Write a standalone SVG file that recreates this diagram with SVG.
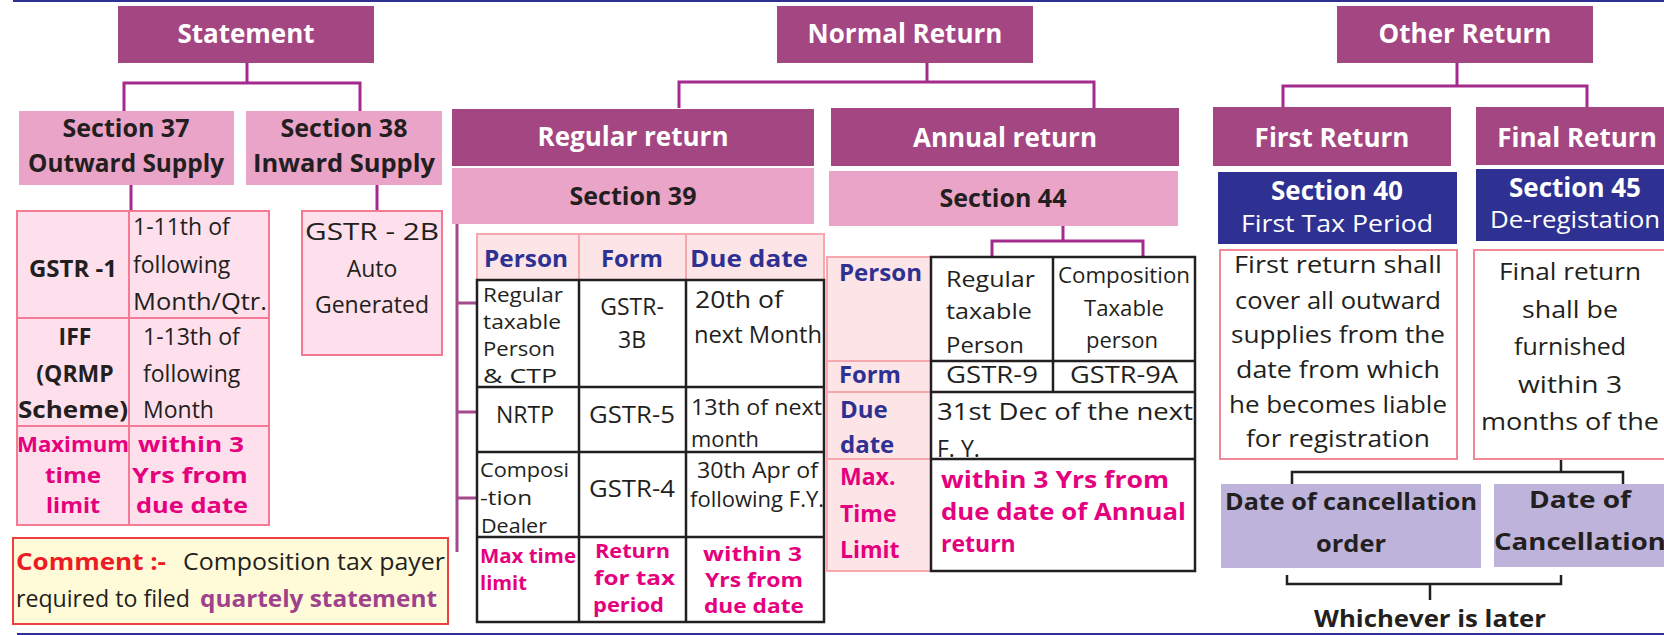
<svg xmlns="http://www.w3.org/2000/svg" width="1664" height="635" viewBox="0 0 1664 635">
<style>
text { font-family: "Open Sans", "Noto Sans", "DejaVu Sans", sans-serif; }
.dark { fill: #a44682; }
.pinkbox { fill: #eaa4c8; }
.lt { fill: #fde0ec; stroke: #f47a94; stroke-width: 2; }
.hdr { fill: #fce4e7; stroke: #f7a8ae; stroke-width: 2; }
.wb { fill: #ffffff; stroke: #231f20; stroke-width: 2.5; }
.blue { fill: #2e3192; }
.lav { fill: #bdb3db; }
.h1 { fill: #ffffff; font-weight: 700; font-size: 26px; text-anchor: middle; }
.h2 { fill: #231f20; font-weight: 700; font-size: 25px; text-anchor: middle; }
.n { fill: #231f20; font-size: 23px; }
.nb { fill: #231f20; font-size: 23px; font-weight: 700; }
.m { fill: #e5007d; font-size: 23px; font-weight: 700; }
.bl { fill: #2e3192; font-size: 24px; font-weight: 700; }
.c { text-anchor: middle; }
.s19 { font-size: 19px; }
.s20 { font-size: 20px; }
.s21 { font-size: 21px; }
.s22 { font-size: 22px; }
.s24 { font-size: 24px; }
.conn { fill: none; stroke: #a52a8e; stroke-width: 3; }
.conn2 { fill: none; stroke: #a34a8c; stroke-width: 3; }
.connk { fill: none; stroke: #231f20; stroke-width: 2.5; }
.pline { stroke: #f47a94; stroke-width: 2; }
.hline { stroke: #f7a8ae; stroke-width: 2; }
.kline { stroke: #231f20; stroke-width: 2.5; }
</style>

<line x1="13" y1="1" x2="1664" y2="1" stroke="#2e3192" stroke-width="2"/>
<line x1="17" y1="634" x2="1664" y2="634" stroke="#2e3192" stroke-width="2"/>

<g id="connectors">
  <path class="conn" d="M247,63 V83 M124,111 V83 H360 V111"/>
  <path class="conn" d="M131,185 V211 M377,185 V211"/>
  <path class="conn" d="M927,63 V82 M679,108 V82 H1094 V108"/>
  <path class="conn2" d="M457,224 V552 M457,303 H477 M457,412 H477 M457,498 H477"/>
  <path class="conn" d="M1063,226 V241 M992,258 V241 H1143 V258"/>
  <path class="conn" d="M1457,63 V86 M1283,107 V86 H1587 V107"/>
  <path class="connk" d="M1561,459 V472 M1292,484 V472 H1623 V484"/>
  <path class="connk" d="M1287,575 V584 H1561 V575 M1430,584 V600"/>
</g>

<!-- Statement branch -->
<g id="statement">
  <rect class="dark" x="118" y="6" width="256" height="57"/>
  <text class="h1" x="246" y="43">Statement</text>
</g>
<g id="section37">
  <rect class="pinkbox" x="19" y="111" width="215" height="74"/>
  <text class="h2" x="126" y="137">Section 37</text>
  <text class="h2" x="126" y="172" textLength="196" lengthAdjust="spacingAndGlyphs">Outward Supply</text>
</g>
<g id="section38">
  <rect class="pinkbox" x="246" y="111" width="196" height="74"/>
  <text class="h2" x="344" y="137">Section 38</text>
  <text class="h2" x="344" y="172" textLength="182" lengthAdjust="spacingAndGlyphs">Inward Supply</text>
</g>
<g id="table-statement">
  <rect class="lt" x="17" y="211" width="252" height="314"/>
  <line class="pline" x1="129" y1="211" x2="129" y2="525"/>
  <line class="pline" x1="17" y1="318" x2="269" y2="318"/>
  <line class="pline" x1="17" y1="426" x2="269" y2="426"/>
  <text class="nb c s24" x="73" y="277">GSTR -1</text>
  <text class="n" x="133" y="235">1-11th of</text>
  <text class="n" x="133" y="273">following</text>
  <text class="n" x="133" y="310" textLength="134" lengthAdjust="spacingAndGlyphs">Month/Qtr.</text>
  <text class="nb c" x="75" y="345">IFF</text>
  <text class="nb c" x="75" y="382">(QRMP</text>
  <text class="nb c" x="73" y="418" textLength="110" lengthAdjust="spacingAndGlyphs">Scheme)</text>
  <text class="n" x="143" y="345">1-13th of</text>
  <text class="n" x="143" y="382">following</text>
  <text class="n" x="143" y="418">Month</text>
  <text class="m c s22" x="73" y="452" textLength="112" lengthAdjust="spacingAndGlyphs">Maximum</text>
  <text class="m c s22" x="73" y="483" textLength="56" lengthAdjust="spacingAndGlyphs">time</text>
  <text class="m c s22" x="73" y="513" textLength="54" lengthAdjust="spacingAndGlyphs">limit</text>
  <text class="m s22" x="138" y="452" textLength="106" lengthAdjust="spacingAndGlyphs">within 3</text>
  <text class="m s22" x="132" y="483" textLength="116" lengthAdjust="spacingAndGlyphs">Yrs from</text>
  <text class="m s22" x="136" y="513" textLength="112" lengthAdjust="spacingAndGlyphs">due date</text>
</g>
<g id="gstr2b">
  <rect class="lt" x="302" y="211" width="140" height="144"/>
  <text class="n c" x="372" y="240" textLength="134" lengthAdjust="spacingAndGlyphs">GSTR - 2B</text>
  <text class="n c" x="372" y="277">Auto</text>
  <text class="n c" x="372" y="313">Generated</text>
</g>
<g id="comment">
  <rect x="13" y="538" width="435" height="86" fill="#fffbd9" stroke="#ef4040" stroke-width="2"/>
  <text x="16" y="570" font-size="24" font-weight="700" fill="#ed1c24" textLength="150" lengthAdjust="spacingAndGlyphs">Comment :-</text>
  <text x="445" y="570" font-size="24" fill="#231f20" text-anchor="end" textLength="262" lengthAdjust="spacingAndGlyphs">Composition tax payer</text>
  <text x="16" y="607" font-size="24" fill="#231f20" textLength="174" lengthAdjust="spacingAndGlyphs">required to filed</text>
  <text x="437" y="607" font-size="24" font-weight="700" fill="#a0418c" text-anchor="end" textLength="237" lengthAdjust="spacingAndGlyphs">quartely statement</text>
</g>

<!-- Normal Return branch -->
<g id="normal-return">
  <rect class="dark" x="777" y="6" width="256" height="57"/>
  <text class="h1" x="905" y="43">Normal Return</text>
</g>
<g id="regular-return">
  <rect class="dark" x="452" y="109" width="362" height="57"/>
  <text class="h1" x="633" y="146">Regular return</text>
</g>
<g id="section39">
  <rect class="pinkbox" x="452" y="168" width="362" height="56"/>
  <text class="h2" x="633" y="205">Section 39</text>
</g>
<g id="table-section39">
  <rect class="hdr" x="477" y="234" width="347" height="46"/>
  <line class="hline" x1="579" y1="234" x2="579" y2="280"/>
  <line class="hline" x1="686" y1="234" x2="686" y2="280"/>
  <rect class="wb" x="477" y="280" width="347" height="342"/>
  <line class="kline" x1="579" y1="280" x2="579" y2="622"/>
  <line class="kline" x1="686" y1="280" x2="686" y2="622"/>
  <line class="kline" x1="477" y1="387" x2="824" y2="387"/>
  <line class="kline" x1="477" y1="452" x2="824" y2="452"/>
  <line class="kline" x1="477" y1="537" x2="824" y2="537"/>
  <text class="bl" x="484" y="267" textLength="84" lengthAdjust="spacingAndGlyphs">Person</text>
  <text class="bl c" x="632" y="267" textLength="62" lengthAdjust="spacingAndGlyphs">Form</text>
  <text class="bl" x="690" y="267" textLength="118" lengthAdjust="spacingAndGlyphs">Due date</text>
  <text class="n s20" x="483" y="302" textLength="80" lengthAdjust="spacingAndGlyphs">Regular</text>
  <text class="n s20" x="483" y="329" textLength="78" lengthAdjust="spacingAndGlyphs">taxable</text>
  <text class="n s20" x="483" y="356" textLength="72" lengthAdjust="spacingAndGlyphs">Person</text>
  <text class="n s20" x="483" y="383" textLength="74" lengthAdjust="spacingAndGlyphs">&amp; CTP</text>
  <text class="n c" x="632" y="315">GSTR-</text>
  <text class="n c" x="632" y="348">3B</text>
  <text class="n" x="695" y="308" textLength="88" lengthAdjust="spacingAndGlyphs">20th of</text>
  <text class="n" x="694" y="343" textLength="128" lengthAdjust="spacingAndGlyphs">next Month</text>
  <text class="n c" x="525" y="423">NRTP</text>
  <text class="n c" x="632" y="423" textLength="86" lengthAdjust="spacingAndGlyphs">GSTR-5</text>
  <text class="n s22" x="691" y="415" textLength="131" lengthAdjust="spacingAndGlyphs">13th of next</text>
  <text class="n s22" x="691" y="447" textLength="68" lengthAdjust="spacingAndGlyphs">month</text>
  <text class="n s20" x="480" y="477" textLength="89" lengthAdjust="spacingAndGlyphs">Composi</text>
  <text class="n s20" x="480" y="505" textLength="52" lengthAdjust="spacingAndGlyphs">-tion</text>
  <text class="n s20" x="481" y="533" textLength="66" lengthAdjust="spacingAndGlyphs">Dealer</text>
  <text class="n c" x="632" y="497" textLength="86" lengthAdjust="spacingAndGlyphs">GSTR-4</text>
  <text class="n s21" x="697" y="478" textLength="121" lengthAdjust="spacingAndGlyphs">30th Apr of</text>
  <text class="n s21" x="690" y="507" textLength="134" lengthAdjust="spacingAndGlyphs">following F.Y.</text>
  <text class="m s20" x="480" y="563" textLength="96" lengthAdjust="spacingAndGlyphs">Max time</text>
  <text class="m s20" x="480" y="590" textLength="47" lengthAdjust="spacingAndGlyphs">limit</text>
  <text class="m s20" x="595" y="558" textLength="75" lengthAdjust="spacingAndGlyphs">Return</text>
  <text class="m s20" x="594" y="585" textLength="81" lengthAdjust="spacingAndGlyphs">for tax</text>
  <text class="m s20" x="593" y="612" textLength="71" lengthAdjust="spacingAndGlyphs">period</text>
  <text class="m s19" x="703" y="561" textLength="99" lengthAdjust="spacingAndGlyphs">within 3</text>
  <text class="m s19" x="705" y="587" textLength="98" lengthAdjust="spacingAndGlyphs">Yrs from</text>
  <text class="m s19" x="704" y="613" textLength="100" lengthAdjust="spacingAndGlyphs">due date</text>
</g>
<g id="annual-return">
  <rect class="dark" x="831" y="108" width="348" height="58"/>
  <text class="h1" x="1005" y="147">Annual return</text>
</g>
<g id="section44">
  <rect class="pinkbox" x="829" y="171" width="349" height="55"/>
  <text class="h2" x="1003" y="207">Section 44</text>
</g>
<g id="table-section44">
  <rect class="hdr" x="827" y="257" width="104" height="314"/>
  <line class="hline" x1="827" y1="361" x2="931" y2="361"/>
  <line class="hline" x1="827" y1="392" x2="931" y2="392"/>
  <line class="hline" x1="827" y1="459" x2="931" y2="459"/>
  <rect class="wb" x="931" y="257" width="264" height="314"/>
  <line class="kline" x1="931" y1="361" x2="1195" y2="361"/>
  <line class="kline" x1="931" y1="392" x2="1195" y2="392"/>
  <line class="kline" x1="931" y1="459" x2="1195" y2="459"/>
  <line class="kline" x1="1053" y1="257" x2="1053" y2="392"/>
  <text class="bl" x="839" y="281" textLength="83" lengthAdjust="spacingAndGlyphs">Person</text>
  <text class="bl" x="839" y="383" textLength="62" lengthAdjust="spacingAndGlyphs">Form</text>
  <text class="bl" x="840" y="418">Due</text>
  <text class="bl" x="840" y="453">date</text>
  <text class="m" x="840" y="485">Max.</text>
  <text class="m" x="840" y="522">Time</text>
  <text class="m" x="840" y="558">Limit</text>
  <text class="n s22" x="946" y="287" textLength="89" lengthAdjust="spacingAndGlyphs">Regular</text>
  <text class="n s22" x="946" y="319" textLength="86" lengthAdjust="spacingAndGlyphs">taxable</text>
  <text class="n s22" x="946" y="353" textLength="78" lengthAdjust="spacingAndGlyphs">Person</text>
  <text class="n c s22" x="1124" y="283" textLength="132" lengthAdjust="spacingAndGlyphs">Composition</text>
  <text class="n c s22" x="1124" y="316" textLength="80" lengthAdjust="spacingAndGlyphs">Taxable</text>
  <text class="n c s22" x="1122" y="348" textLength="72" lengthAdjust="spacingAndGlyphs">person</text>
  <text class="n c" x="992" y="383" textLength="92" lengthAdjust="spacingAndGlyphs">GSTR-9</text>
  <text class="n c" x="1124" y="383" textLength="108" lengthAdjust="spacingAndGlyphs">GSTR-9A</text>
  <text class="n" x="937" y="420" textLength="256" lengthAdjust="spacingAndGlyphs">31st Dec of the next</text>
  <text class="n" x="937" y="457">F. Y.</text>
  <text class="m" x="941" y="488" textLength="228" lengthAdjust="spacingAndGlyphs">within 3 Yrs from</text>
  <text class="m" x="941" y="520" textLength="245" lengthAdjust="spacingAndGlyphs">due date of Annual</text>
  <text class="m" x="941" y="552">return</text>
</g>

<!-- Other Return branch -->
<g id="other-return">
  <rect class="dark" x="1337" y="6" width="256" height="57"/>
  <text class="h1" x="1465" y="43">Other Return</text>
</g>
<g id="first-return">
  <rect class="dark" x="1213" y="107" width="238" height="59"/>
  <text class="h1" x="1332" y="147">First Return</text>
</g>
<g id="final-return">
  <rect class="dark" x="1476" y="107" width="188" height="58"/>
  <text class="h1" x="1577" y="147">Final Return</text>
</g>
<g id="section40">
  <rect class="blue" x="1218" y="172" width="239" height="72"/>
  <text class="h1" x="1337" y="200">Section 40</text>
  <text x="1337" y="232" font-size="24" fill="#ffffff" text-anchor="middle" textLength="192" lengthAdjust="spacingAndGlyphs">First Tax Period</text>
</g>
<g id="section45">
  <rect class="blue" x="1476" y="169" width="188" height="72"/>
  <text class="h1" x="1575" y="197">Section 45</text>
  <text x="1575" y="228" font-size="24" fill="#ffffff" text-anchor="middle" textLength="170" lengthAdjust="spacingAndGlyphs">De-registation</text>
</g>
<g id="first-return-text">
  <rect x="1220" y="250" width="237" height="209" fill="#ffffff" stroke="#f08898" stroke-width="2"/>
  <text class="n c" x="1338" y="273" textLength="208" lengthAdjust="spacingAndGlyphs">First return shall</text>
  <text class="n c" x="1338" y="309" textLength="206" lengthAdjust="spacingAndGlyphs">cover all outward</text>
  <text class="n c" x="1338" y="343" textLength="214" lengthAdjust="spacingAndGlyphs">supplies from the</text>
  <text class="n c" x="1338" y="378" textLength="204" lengthAdjust="spacingAndGlyphs">date from which</text>
  <text class="n c" x="1338" y="413" textLength="218" lengthAdjust="spacingAndGlyphs">he becomes liable</text>
  <text class="n c" x="1338" y="447" textLength="184" lengthAdjust="spacingAndGlyphs">for registration</text>
</g>
<g id="final-return-text">
  <rect x="1474" y="250" width="200" height="209" fill="#ffffff" stroke="#f08898" stroke-width="2"/>
  <text class="n c" x="1570" y="280" textLength="142" lengthAdjust="spacingAndGlyphs">Final return</text>
  <text class="n c" x="1570" y="318" textLength="96" lengthAdjust="spacingAndGlyphs">shall be</text>
  <text class="n c" x="1570" y="355" textLength="112" lengthAdjust="spacingAndGlyphs">furnished</text>
  <text class="n c" x="1570" y="393" textLength="104" lengthAdjust="spacingAndGlyphs">within 3</text>
  <text class="n c" x="1570" y="430" textLength="178" lengthAdjust="spacingAndGlyphs">months of the</text>
</g>
<g id="date-cancellation-order">
  <rect class="lav" x="1221" y="484" width="260" height="84"/>
  <text class="nb c" x="1351" y="510" textLength="252" lengthAdjust="spacingAndGlyphs">Date of cancellation</text>
  <text class="nb c" x="1351" y="552" textLength="70" lengthAdjust="spacingAndGlyphs">order</text>
</g>
<g id="date-cancellation">
  <rect class="lav" x="1494" y="484" width="170" height="83"/>
  <text class="nb c" x="1580" y="508" textLength="102" lengthAdjust="spacingAndGlyphs">Date of</text>
  <text class="nb c" x="1580" y="550" textLength="172" lengthAdjust="spacingAndGlyphs">Cancellation</text>
</g>
<g id="whichever">
  <text class="nb c" x="1430" y="627" textLength="232" lengthAdjust="spacingAndGlyphs">Whichever is later</text>
</g>
</svg>
